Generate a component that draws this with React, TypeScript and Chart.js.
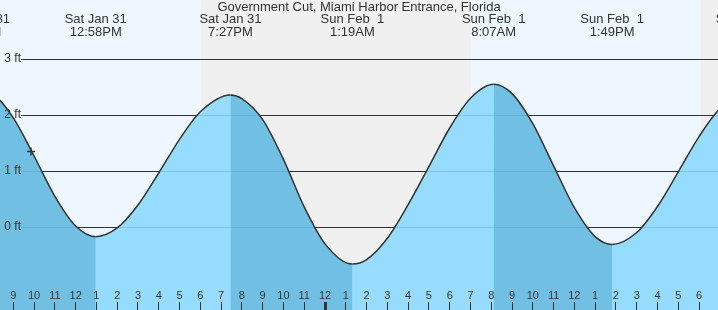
import { useEffect, useRef } from 'react';
import { Chart, registerables } from 'chart.js';

Chart.register(...registerables);

// ---- data (hours counted from Sat Jan 31, 00:00; heights in feet) ----
const stationTitle = 'Government Cut, Miami Harbor Entrance, Florida';

// high / low tides
const extremeHours = [7.35, 12.967, 19.45, 25.317, 32.117, 37.817, 44.33];
const extremeFeet = [2.48, -0.17, 2.36, -0.66, 2.55, -0.31, 2.38];
const extremeDays = ['Sat Jan 31', 'Sat Jan 31', 'Sat Jan 31', 'Sun Feb  1', 'Sun Feb  1', 'Sun Feb  1', 'Sun Feb  1'];
const extremeClock = ['7:21AM', '12:58PM', '7:27PM', '1:19AM', '8:07AM', '1:49PM', '8:20PM'];

// curve read at the hour ticks (hours right next to a high/low are left out)
const hourHours = [
  8, 9, 10, 11, 12, 14, 15, 16, 17, 18, 20, 21, 22, 23, 24,
  26, 27, 28, 29, 30, 31, 33, 34, 35, 36, 37, 39, 40, 41, 42, 43,
];
const hourFeet = [
  2.39, 1.95, 1.27, 0.55, 0.02, -0.015, 0.395, 0.967, 1.568, 2.059, 2.295, 1.92, 1.21, 0.36, -0.299,
  -0.581, -0.199, 0.4, 1.08, 1.77, 2.3, 2.384, 1.847, 1.094, 0.349, -0.169, -0.097, 0.369, 0.987, 1.616, 2.112,
];

// "now" marker
const nowHour = [9.85];
const nowFeet = [1.35];

// night (sunset -> sunrise)
const nightStart = [18.03, 42.09];
const nightEnd = [31.03, 54.5];

const feetTicks = [0, 1, 2, 3];

// ---- styling ----
const X_MIN = 8.36;
const X_MAX = 42.912;
const Y_MIN = -1.48;
const Y_MAX = 4.056;
const Y_LABEL_AT = 9.37;

const DAY = '#eef7ff';
const NIGHT = '#f0f0f0';
const LIGHT = 'rgba(138,216,254,0.88)';
const DARK = 'rgba(58,150,189,0.4)';
const CLEAR = 'rgba(0,0,0,0)';
const INK = '#333333';
const FAMILY = '"Liberation Sans", Arial, sans-serif';

const tidePoints = [
  ...extremeHours.map((h, i) => ({ x: h, y: extremeFeet[i] })),
  ...hourHours.map((h, i) => ({ x: h, y: hourFeet[i] })),
].sort((a, b) => a.x - b.x);

const nowPoints = nowHour.map((h, i) => ({ x: h, y: nowFeet[i] }));

const noPad = (s: any, horizontal: boolean) => {
  s.paddingLeft = 0;
  s.paddingRight = 0;
  s.paddingTop = 0;
  s.paddingBottom = 0;
  if (horizontal) s.height = 0;
  else s.width = 0;
};

const dayNight = {
  id: 'dayNight',
  beforeDraw(chart: any) {
    const { ctx, width, height } = chart;
    const x = chart.scales.x;
    ctx.save();
    ctx.fillStyle = DAY;
    ctx.fillRect(0, 0, width, height);
    ctx.fillStyle = NIGHT;
    nightStart.forEach((s, i) => {
      const a = Math.round(x.getPixelForValue(s));
      const b = Math.round(x.getPixelForValue(nightEnd[i]));
      ctx.fillRect(a, 0, b - a, height);
    });
    ctx.restore();
  },
};

export default function App() {
  const ref = useRef<HTMLCanvasElement>(null);

  useEffect(() => {
    if (!ref.current) return;
    const chart = new Chart(ref.current, {
      type: 'line',
      data: {
        datasets: [
          {
            data: nowPoints as any,
            xAxisID: 'x',
            yAxisID: 'y',
            showLine: false,
            pointStyle: 'cross',
            pointRadius: 4,
            pointBorderWidth: 1.5,
            borderColor: INK,
            fill: false,
            order: 0,
          },
          {
            // falling-tide shading + the curve itself
            data: tidePoints as any,
            xAxisID: 'x',
            yAxisID: 'y',
            borderColor: INK,
            borderWidth: 1.5,
            pointRadius: 0,
            fill: 'start',
            backgroundColor: CLEAR,
            cubicInterpolationMode: 'monotone',
            segment: {
              backgroundColor: (c: any) => (c.p1.parsed.y < c.p0.parsed.y ? DARK : CLEAR),
            },
            order: 1,
          },
          {
            // water body
            data: tidePoints as any,
            xAxisID: 'x',
            yAxisID: 'y',
            borderColor: CLEAR,
            borderWidth: 1,
            pointRadius: 0,
            fill: 'start',
            backgroundColor: LIGHT,
            cubicInterpolationMode: 'monotone',
            order: 2,
          },
        ],
      },
      options: {
        animation: false,
        responsive: false,
        devicePixelRatio: 1,
        events: [],
        layout: { padding: 0, autoPadding: false },
        plugins: {
          legend: { display: false },
          tooltip: { enabled: false },
          title: {
            display: true,
            text: stationTitle,
            color: INK,
            font: { family: FAMILY, size: 13, weight: 'normal', lineHeight: 1 },
            padding: { top: 0.8, bottom: -13.8 },
          },
        },
        scales: {
          x: {
            type: 'linear',
            axis: 'x',
            min: X_MIN,
            max: X_MAX,
            position: { y: Y_MIN } as any,
            afterFit: (s: any) => noPad(s, true),
            border: { display: false },
            grid: {
              drawOnChartArea: false,
              drawTicks: true,
              tickLength: -8,
              tickColor: INK,
              lineWidth: 1,
              tickWidth: (c: any) => (c.tick && c.tick.value % 24 === 0 ? 3 : 1),
              z: 1,
            },
            ticks: {
              stepSize: 1,
              includeBounds: false,
              autoSkip: false,
              maxRotation: 0,
              minRotation: 0,
              padding: -11.7,
              color: INK,
              font: { family: FAMILY, size: 11, lineHeight: 1 },
              z: 1,
              callback: (v: any) => {
                const h = Number(v) % 12;
                return h === 0 ? '12' : String(h);
              },
            },
          },
          x2: {
            type: 'linear',
            axis: 'x',
            min: X_MIN,
            max: X_MAX,
            position: { y: Y_MAX } as any,
            afterFit: (s: any) => noPad(s, true),
            afterBuildTicks: (s: any) => {
              s.ticks = extremeHours.map((h) => ({ value: h }));
            },
            border: { display: false },
            grid: { display: false, drawTicks: false },
            ticks: {
              autoSkip: false,
              maxRotation: 0,
              minRotation: 0,
              padding: 13,
              color: INK,
              font: { family: FAMILY, size: 13, lineHeight: 1 },
              z: 1,
              callback: (_v: any, i: number) => [extremeDays[i], extremeClock[i]],
            },
          },
          y: {
            type: 'linear',
            axis: 'y',
            min: Y_MIN,
            max: Y_MAX,
            position: { x: Y_LABEL_AT } as any,
            afterFit: (s: any) => noPad(s, false),
            afterBuildTicks: (s: any) => {
              s.ticks = feetTicks.map((v) => ({ value: v }));
            },
            border: { display: false },
            grid: {
              drawOnChartArea: false,
              drawTicks: true,
              tickLength: -700,
              tickColor: INK,
              lineWidth: 1,
              z: -1,
            },
            ticks: {
              autoSkip: false,
              padding: 0,
              color: INK,
              font: { family: FAMILY, size: 12, lineHeight: 1 },
              z: 1,
              callback: (v: any) => `${v} ft`,
            },
          },
        },
      },
      plugins: [dayNight],
    });
    return () => chart.destroy();
  }, []);

  return (
    <div style={{ position: 'fixed', left: 0, top: 0, width: 718, height: 310 }}>
      <canvas ref={ref} width={718} height={310} style={{ display: 'block' }} />
    </div>
  );
}
